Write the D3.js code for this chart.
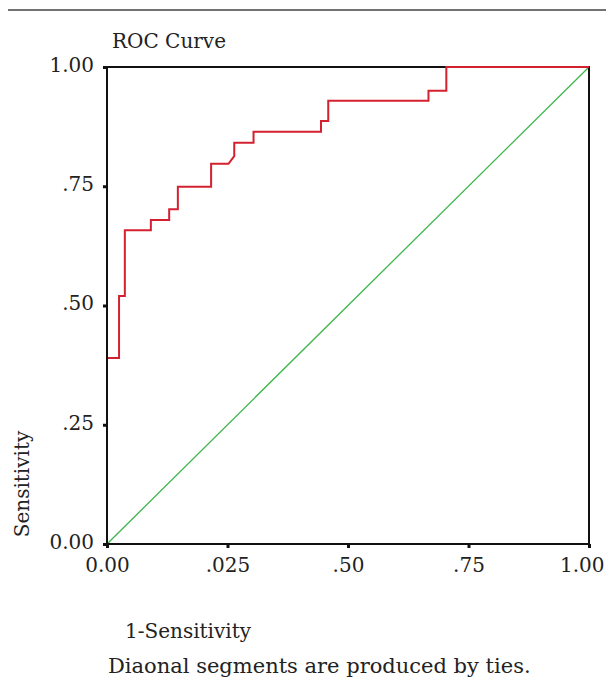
<!DOCTYPE html>
<html><head><meta charset="utf-8">
<script src="https://cdn.jsdelivr.net/npm/d3@7"></script>
<style>body{margin:0;background:#fff}svg{display:block}text{font-family:"DejaVu Serif",serif;fill:#222}</style>
</head><body>
<svg id="c" width="606" height="678"></svg>
<script>
// ROC curve points (1-specificity, sensitivity)
const rocX = [0, 0, 0.025, 0.025, 0.037, 0.037, 0.091, 0.091, 0.129, 0.129, 0.147, 0.147, 0.216, 0.216, 0.252, 0.264, 0.264, 0.304, 0.304, 0.444, 0.444, 0.459, 0.459, 0.667, 0.667, 0.704, 0.704, 1];
const rocY = [0, 0.39, 0.39, 0.52, 0.52, 0.658, 0.658, 0.679, 0.679, 0.702, 0.702, 0.749, 0.749, 0.797, 0.797, 0.813, 0.841, 0.841, 0.864, 0.864, 0.887, 0.887, 0.929, 0.929, 0.95, 0.95, 1, 1];
const refX = [0, 1];
const refY = [0, 1];
const tickValues = [0, 0.25, 0.5, 0.75, 1];
const xTickLabels = ["0.00", ".025", ".50", ".75", "1.00"];
const yTickLabels = ["0.00", ".25", ".50", ".75", "1.00"];

const svg = d3.select("#c");
const L = 107, R = 589, T = 67, B = 544;
const x = d3.scaleLinear().domain([0, 1]).range([L, R]);
const y = d3.scaleLinear().domain([0, 1]).range([B, T]);

// top rule
svg.append("line").attr("x1", 8).attr("x2", 606).attr("y1", 10).attr("y2", 10)
  .attr("stroke", "#444").attr("stroke-width", 1.5);

svg.append("text").attr("x", 112).attr("y", 48).attr("font-size", 20).text("ROC Curve");

const line = d3.line().x(d => x(d[0])).y(d => y(d[1]));

// reference diagonal
svg.append("path").datum(refX.map((v, i) => [v, refY[i]])).attr("d", line)
  .attr("fill", "none").attr("stroke", "#3db54a").attr("stroke-width", 1.3);

// frame
svg.append("rect").attr("x", L).attr("y", T).attr("width", R - L).attr("height", B - T)
  .attr("fill", "none").attr("stroke", "#111").attr("stroke-width", 2);

// ROC curve
svg.append("path").datum(rocX.map((v, i) => [v, rocY[i]])).attr("d", line)
  .attr("fill", "none").attr("stroke", "#d4212f").attr("stroke-width", 2);

// left axis line drawn over the curve
svg.append("line").attr("x1", L).attr("x2", L).attr("y1", T).attr("y2", B + 1)
  .attr("stroke", "#111").attr("stroke-width", 2);

// axes
const xAxis = d3.axisBottom(x).tickValues(tickValues).tickSize(4).tickPadding(10)
  .tickFormat((d, i) => xTickLabels[i]);
const gx = svg.append("g").attr("transform", `translate(0,${B})`).call(xAxis);
gx.select(".domain").remove();
gx.selectAll(".tick line").attr("stroke", "#111").attr("stroke-width", 3);
gx.selectAll(".tick text").attr("font-size", 20).attr("font-family", "DejaVu Serif").attr("fill", "#222");
gx.selectAll(".tick text").filter((d, i) => i === tickValues.length - 1)
  .attr("text-anchor", "end").attr("x", 604 - R);

const yAxis = d3.axisLeft(y).tickValues(tickValues).tickSize(4).tickPadding(9)
  .tickFormat((d, i) => yTickLabels[i]);
const gy = svg.append("g").attr("transform", `translate(${L},0)`).call(yAxis);
gy.select(".domain").remove();
gy.selectAll(".tick line").attr("stroke", "#111").attr("stroke-width", 3);
gy.selectAll(".tick text").attr("font-size", 20).attr("font-family", "DejaVu Serif").attr("fill", "#222").attr("dy", "0.22em");

svg.append("text").attr("transform", "translate(29,484) rotate(-90)").attr("text-anchor", "middle")
  .attr("font-size", 20).text("Sensitivity");
svg.append("text").attr("x", 125).attr("y", 638).attr("font-size", 20).text("1-Sensitivity");
svg.append("text").attr("x", 108).attr("y", 673).attr("font-size", 21).text("Diaonal segments are produced by ties.");
</script>
</body></html>
